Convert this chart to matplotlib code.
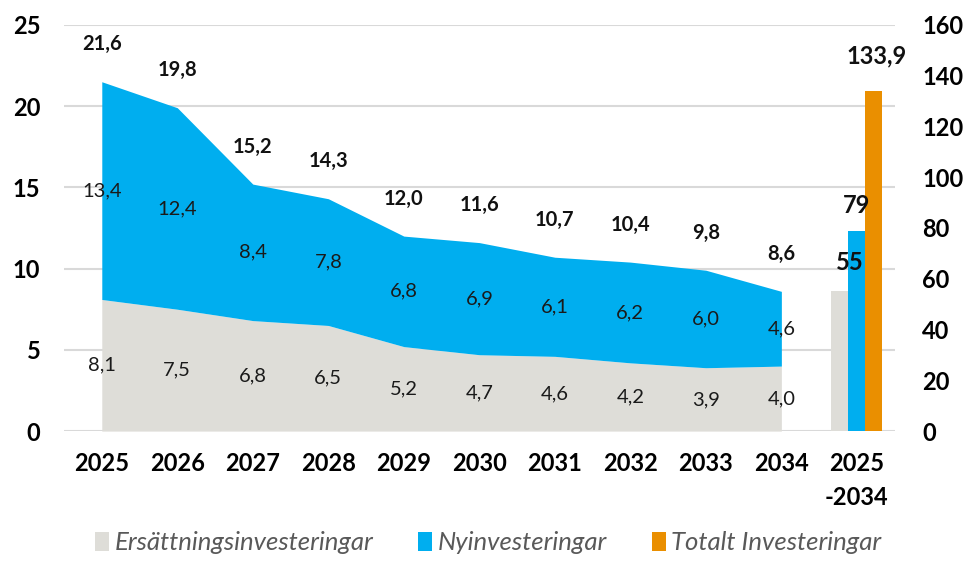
import matplotlib
matplotlib.use("Agg")
import matplotlib.pyplot as plt
from matplotlib.patches import Patch
import numpy as np

plt.rcParams['font.family'] = ['Lato', 'DejaVu Sans']

years = ['2025', '2026', '2027', '2028', '2029', '2030', '2031', '2032', '2033', '2034']
total_label = '2025\n-2034'
ersatt = [8.1, 7.5, 6.8, 6.5, 5.2, 4.7, 4.6, 4.2, 3.9, 4.0]
nyinv = [13.4, 12.4, 8.4, 7.8, 6.8, 6.9, 6.1, 6.2, 6.0, 4.6]
totals = [21.6, 19.8, 15.2, 14.3, 12.0, 11.6, 10.7, 10.4, 9.8, 8.6]
sum_names = ['Ersättningsinvesteringar', 'Nyinvesteringar', 'Totalt Investeringar']
sum_values = [55, 79, 133.9]
sum_labels = ['55', '79', '133,9']

c_gray = '#DEDDD8'
c_blue = '#00AEEF'
c_orange = '#EA8F00'
colors = [c_gray, c_blue, c_orange]

def fmt(v):
    return f'{v:.1f}'.replace('.', ',')

fig = plt.figure(figsize=(9.63, 5.65), dpi=100)
ax = fig.add_axes([0.0665, 0.237, 0.8625, 0.719])
ax2 = ax.twinx()

x = np.arange(len(years))
e = np.array(ersatt)
n = np.array(nyinv)
ax.fill_between(x, 0, e, color=c_gray, lw=0, zorder=2)
ax.fill_between(x, e, e + n, color=c_blue, lw=0, zorder=2)

for i in range(len(years)):
    ax.text(x[i], e[i] / 2, fmt(ersatt[i]), ha='center', va='center', fontsize=14.5, color='#1a1a1a', zorder=5)
    ax.text(x[i], e[i] + n[i] / 2, fmt(nyinv[i]), ha='center', va='center', fontsize=14.5, color='#1a1a1a', zorder=5)
    ax.annotate(fmt(totals[i]), (x[i], e[i] + n[i]), xytext=(0, 27), textcoords='offset points',
                ha='center', va='center', fontsize=14.5, fontweight='bold', color='#111111', zorder=5)

for yv in range(0, 26, 5):
    ax.axhline(yv, color='#D9D9D9', lw=1.5, zorder=0)

ax.set_xlim(-0.5, 10.5)
ax.set_ylim(0, 25)
ax.set_yticks(range(0, 26, 5))
ax.set_xticks(list(x) + [10])
ax.set_xticklabels(years + [total_label], fontsize=17, fontweight='bold', linespacing=1.6)
ax.tick_params(axis='both', length=0)
ax.tick_params(axis='y', labelsize=17, pad=17)
ax.tick_params(axis='x', pad=15)
for lab in ax.get_yticklabels():
    lab.set_fontweight('bold')
for s in ax.spines.values():
    s.set_visible(False)

bw = 0.225
offs = [-bw, 0, bw]
label_offsets = [(7, 21), (0, 18), (2, 25)]
for k in range(3):
    ax2.bar(10 + offs[k], sum_values[k], width=bw, color=colors[k], zorder=3)
for k in range(3):
    ax2.annotate(sum_labels[k], (10 + offs[k], sum_values[k]), xytext=label_offsets[k],
                 textcoords='offset points', ha='center', va='center', fontsize=17,
                 fontweight='bold', color='#111111', zorder=10)
ax2.set_ylim(0, 160)
ax2.set_yticks(range(0, 161, 20))
ax2.tick_params(axis='y', length=0, labelsize=17, pad=20)
for lab in ax2.get_yticklabels():
    lab.set_fontweight('bold')
for s in ax2.spines.values():
    s.set_visible(False)
ax2.set_xlim(-0.5, 10.5)

handles = [Patch(facecolor=c, edgecolor='none') for c in colors]
leg = fig.legend(handles, sum_names, loc='lower center', bbox_to_anchor=(0.507, -0.022), ncol=3,
                 frameon=False, handlelength=0.55, handleheight=0.75, handletextpad=0.2,
                 columnspacing=1.75, prop={'size': 18.5, 'style': 'italic'})
for t in leg.get_texts():
    t.set_color('#595959')

fig.savefig('out.png', dpi=100)
